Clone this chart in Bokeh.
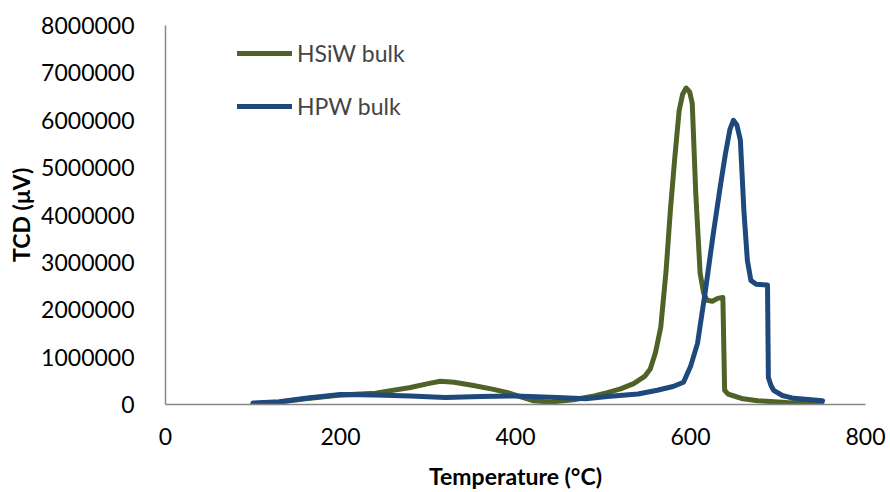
from bokeh.plotting import figure
from bokeh.models import Range1d, SingleIntervalTicker, BasicTickFormatter, Legend, LegendItem
from bokeh.embed import file_html
from bokeh.resources import INLINE

# Data
hsiw_temp = [100, 130, 160, 200, 240, 280, 300, 314, 330, 352, 375, 391, 408, 420, 440, 466, 490, 505, 520, 535, 548, 554, 560, 566, 572, 577, 582, 587, 591, 595, 599, 602, 606, 611, 615, 619, 625, 631, 637, 639, 643, 648, 660, 677, 710, 750]
hsiw_tcd = [20000, 50000, 120000, 200000, 240000, 360000, 440000, 490000, 470000, 400000, 320000, 250000, 150000, 80000, 50000, 100000, 180000, 250000, 330000, 440000, 600000, 750000, 1100000, 1630000, 2800000, 4100000, 5200000, 6200000, 6550000, 6680000, 6600000, 6360000, 4460000, 2770000, 2350000, 2200000, 2180000, 2240000, 2260000, 300000, 220000, 190000, 120000, 80000, 40000, 20000]

hpw_temp = [100, 130, 160, 200, 240, 280, 320, 360, 400, 448, 480, 505, 540, 562, 580, 592, 600, 608, 617, 626, 634, 640, 645, 649, 653, 657, 661, 665, 669, 675, 688, 689, 692, 695, 705, 718, 751]
hpw_tcd = [30000, 60000, 130000, 210000, 200000, 180000, 150000, 170000, 180000, 150000, 120000, 170000, 220000, 300000, 380000, 470000, 800000, 1290000, 2400000, 3600000, 4600000, 5300000, 5800000, 6000000, 5900000, 5580000, 4100000, 3040000, 2620000, 2540000, 2520000, 570000, 400000, 300000, 190000, 130000, 80000]

x_ticks_interval = 200
y_ticks_interval = 1000000

GREEN = "#4F6228"
BLUE = "#1F497D"
AXIS = "#868686"
FONT = "Lato"

p = figure(width=890, height=492, output_backend="svg", toolbar_location=None,
           x_range=Range1d(0, 800), y_range=Range1d(0, 8000000),
           min_border_left=165, min_border_right=25, min_border_top=25, min_border_bottom=88)
p.outline_line_color = None
p.grid.grid_line_color = None
p.background_fill_color = "white"

r1 = p.line(hsiw_temp, hsiw_tcd, line_color=GREEN, line_width=5, line_join="round", line_cap="round")
r2 = p.line(hpw_temp, hpw_tcd, line_color=BLUE, line_width=5, line_join="round", line_cap="round")

for ax in (p.xaxis[0], p.yaxis[0]):
    ax.axis_line_color = AXIS
    ax.axis_line_width = 1.5
    ax.major_tick_line_color = None
    ax.minor_tick_line_color = None
    ax.major_label_text_font = FONT
    ax.major_label_text_font_size = "23px"
    ax.major_label_text_color = "black"
    ax.axis_label_text_font = FONT
    ax.axis_label_text_font_size = "23px"
    ax.axis_label_text_font_style = "bold"
    ax.axis_label_text_color = "black"

p.xaxis[0].ticker = SingleIntervalTicker(interval=x_ticks_interval)
p.yaxis[0].ticker = SingleIntervalTicker(interval=y_ticks_interval)
p.yaxis[0].formatter = BasicTickFormatter(use_scientific=False)
p.xaxis[0].axis_label = "Temperature (°C)"
p.yaxis[0].axis_label = "TCD (μV)"
p.xaxis[0].major_label_standoff = 17
p.yaxis[0].major_label_standoff = 25
p.xaxis[0].axis_label_standoff = 14
p.yaxis[0].axis_label_standoff = 3

legend = Legend(items=[LegendItem(label="HSiW bulk", renderers=[r1]),
                       LegendItem(label="HPW bulk", renderers=[r2])],
                location=(72, 284), orientation="vertical",
                glyph_width=55, glyph_height=28, label_height=28, spacing=25,
                padding=0, margin=0, label_standoff=5,
                label_text_font=FONT, label_text_font_size="23px",
                border_line_color=None, background_fill_alpha=0)
p.add_layout(legend)

html = file_html(p, INLINE)
html = html.replace("<head>", "<head><style>html, body { overflow: hidden; }</style>", 1)
open("out.html", "w").write(html)
